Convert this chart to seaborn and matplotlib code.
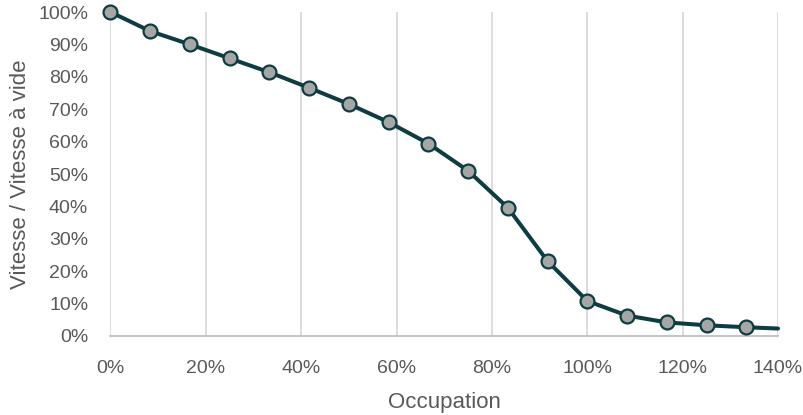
import matplotlib
matplotlib.use("Agg")
import matplotlib.pyplot as plt
from matplotlib.ticker import PercentFormatter
import pandas as pd
import seaborn as sns

# Occupation (%) and relative speed (%)
occupation = [0, 8.33, 16.67, 25, 33.33, 41.67, 50, 58.33, 66.67, 75, 83.33,
              91.67, 100, 108.33, 116.67, 125, 133.33, 140]
speed_ratio = [100, 94.1, 90.0, 85.7, 81.4, 76.6, 71.6, 66.0, 59.4, 51.0, 39.6,
               23.1, 10.8, 6.3, 4.2, 3.3, 2.7, 2.3]
x_ticks = [0, 20, 40, 60, 80, 100, 120, 140]
y_ticks = [0, 10, 20, 30, 40, 50, 60, 70, 80, 90, 100]

df = pd.DataFrame({"Occupation": occupation, "Vitesse": speed_ratio})

sns.set_theme(style="white")
plt.rcParams["font.family"] = ["Liberation Sans Narrow", "Liberation Sans", "DejaVu Sans"]

text_color = "#595959"
line_color = "#0B3D42"

fig = plt.figure(figsize=(8.04, 4.15), dpi=100)
ax = fig.add_axes([0.1374, 0.1904, 0.8303, 0.7806])

sns.lineplot(data=df, x="Occupation", y="Vitesse", ax=ax, color=line_color,
             linewidth=2.9, marker="o", markersize=10,
             markerfacecolor="#A6A6A6", markeredgecolor=line_color,
             markeredgewidth=1.6, markevery=list(range(len(occupation) - 1)),
             clip_on=False, zorder=3)

ax.set_xlim(0, 140)
ax.set_ylim(0, 100)
ax.set_xticks(x_ticks)
ax.set_yticks(y_ticks)
ax.xaxis.set_major_formatter(PercentFormatter(decimals=0))
ax.yaxis.set_major_formatter(PercentFormatter(decimals=0))

ax.grid(axis="x", color="#D9D9D9", linewidth=1.3)
ax.grid(axis="y", visible=False)
for side in ("top", "right", "left"):
    ax.spines[side].set_visible(False)
ax.spines["bottom"].set_color("#BFBFBF")
ax.spines["bottom"].set_linewidth(1.3)

ax.tick_params(axis="both", length=0, labelsize=14, colors=text_color)
ax.tick_params(axis="x", pad=17)
ax.tick_params(axis="y", pad=16)

ax.set_xlabel("Occupation", fontsize=16, color=text_color, labelpad=11)
ax.set_ylabel("Vitesse / Vitesse à vide", fontsize=16, color=text_color, labelpad=5)

fig.savefig("out.png", dpi=100)
